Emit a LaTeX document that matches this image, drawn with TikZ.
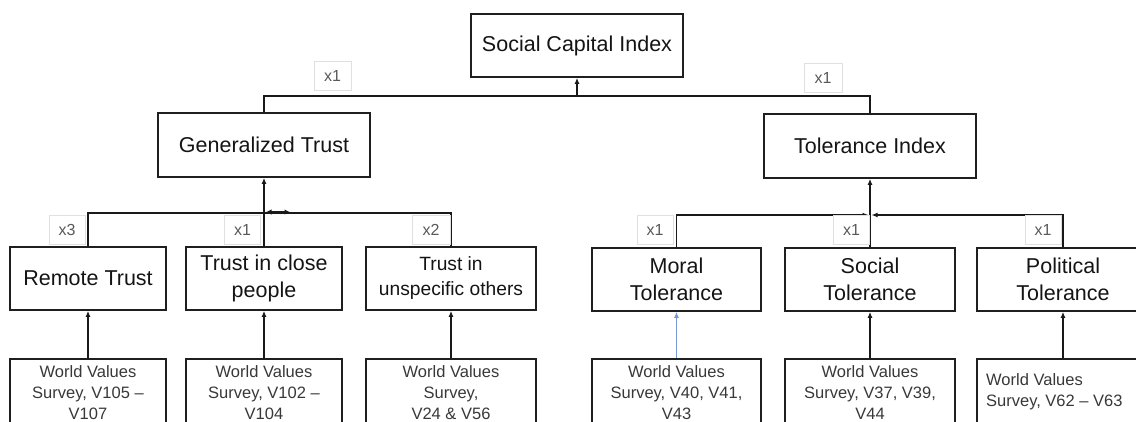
\documentclass[tikz,border=0pt]{standalone}
\usepackage{fontspec}
\setmainfont{Liberation Sans}
\usetikzlibrary{arrows.meta}
\definecolor{lightblue}{RGB}{120,150,210}
\begin{document}
\begin{tikzpicture}[x=1pt,y=-1pt,
  box/.style={draw=black!88, line width=1.7pt, inner sep=0pt, align=center, text=black!92, font=\fontsize{21.5}{26.5}\selectfont},
  srcbox/.style={draw=black!88, line width=1.7pt, inner sep=0pt},
  lab/.style={draw=black!12, line width=0.6pt, fill=white, inner sep=0pt, minimum width=36pt, minimum height=29pt, text=black!65, font=\fontsize{16}{18}\selectfont},
  src/.style={align=center, text=black!78, font=\fontsize{16.5}{21}\selectfont, inner sep=0pt},
  conn/.style={draw=black!90, line width=1.6pt},
  arr/.style={conn, -{Latex[length=6pt,width=5pt]}},
  dblarr/.style={conn, line width=1.5pt, {Latex[length=5.5pt,width=5.5pt]}-{Latex[length=5.5pt,width=5.5pt]}},
  bluearr/.style={draw=lightblue, line width=1pt, -{Latex[length=6pt,width=5pt]}},
]
\useasboundingbox (0,0) rectangle (1136,421);
\clip (0,0) rectangle (1136,421);

% top level
\node[box, minimum width=212pt, minimum height=63pt] (sci) at (577,45.5) {Social Capital Index};
\node[box, minimum width=212pt, minimum height=64pt] (gt) at (264,145) {Generalized Trust};
\node[box, minimum width=212pt, minimum height=64pt] (ti) at (870,146) {Tolerance Index};

% second level
\node[box, minimum width=156pt, minimum height=63pt] (remote) at (88,278.5) {Remote Trust};
\node[box, minimum width=156pt, minimum height=63pt] (close) at (264,278.5) {Trust in close\\people};
\node[box, minimum width=170pt, minimum height=63pt, font=\fontsize{19.2}{25}\selectfont] (unspec) at (451,278.5) {Trust in\\unspecific others};
\node[box, minimum width=169pt, minimum height=63pt] (moral) at (676.5,279.5) {Moral\\Tolerance};
\node[box, minimum width=170pt, minimum height=63pt] (social) at (870,279.5) {Social\\Tolerance};
\node[box, minimum width=172pt, minimum height=63pt] (political) at (1063,279.5) {Political\\Tolerance};

% source boxes
\node[srcbox, minimum width=156pt, minimum height=91pt] (w1) at (88,404.5) {};
\node[srcbox, minimum width=156pt, minimum height=91pt] (w2) at (264,404.5) {};
\node[srcbox, minimum width=170pt, minimum height=91pt] (w3) at (451,404.5) {};
\node[srcbox, minimum width=169pt, minimum height=91pt] (w4) at (676.5,404.5) {};
\node[srcbox, minimum width=170pt, minimum height=91pt] (w5) at (870,404.5) {};
\node[srcbox, minimum width=172pt, minimum height=91pt] (w6) at (1063,404.5) {};

\node[src] (w1t) at (88,393) {World Values\\Survey, V105 –\\V107};
\node[src] (w2t) at (264,393) {World Values\\Survey, V102 –\\V104};
\node[src] (w3t) at (451,393) {World Values\\Survey,\\V24 \& V56};
\node[src] (w4t) at (676.5,393) {World Values\\Survey, V40, V41,\\V43};
\node[src] (w5t) at (870,393) {World Values\\Survey, V37, V39,\\V44};
\node[src, align=left, anchor=west] (w6t) at (986,392) {World Values\\Survey, V62 – V63};

% connector coordinates
\coordinate (topbar) at (577,96);
\coordinate (lbar) at (264,213);
\coordinate (lbarr) at (266,212);
\coordinate (dbl) at (290,212);
\coordinate (rbar) at (870,215);

% top connectors
\draw[conn] (gt.north) |- (topbar) -| (ti.north);
\draw[arr] (topbar) -- (sci.south);

% left group
\draw[conn] (remote.north) |- (lbar);
\draw[conn] (unspec.north) |- (lbar);
\draw[arr] (close.north) -- (gt.south);
\draw[dblarr] (lbarr) -- (dbl);

% right group
\draw[arr, shorten >=1.5pt] (moral.north) |- (rbar);
\draw[arr, shorten >=1.5pt] (political.north) |- (rbar);
\draw[arr] (social.north) -- (ti.south);

% source arrows
\draw[arr] (w1.north) -- (remote.south);
\draw[arr] (w2.north) -- (close.south);
\draw[arr] (w3.north) -- (unspec.south);
\draw[bluearr] (w4.north) -- (moral.south);
\draw[arr] (w5.north) -- (social.south);
\draw[arr] (w6.north) -- (political.south);

% weight labels
\node[lab, minimum width=37pt] (l0) at (332.5,75.5) {x1};
\node[lab, minimum width=38pt] (l00) at (823,78) {x1};
\node[lab] (l1) at (67,229.5) {x3};
\node[lab] (l2) at (242.5,229.5) {x1};
\node[lab, minimum width=38pt] (l3) at (431,229.5) {x2};
\node[lab] (l4) at (655,229.5) {x1};
\node[lab] (l5) at (851.5,229.5) {x1};
\node[lab] (l6) at (1043,229.5) {x1};
\end{tikzpicture}
\end{document}
